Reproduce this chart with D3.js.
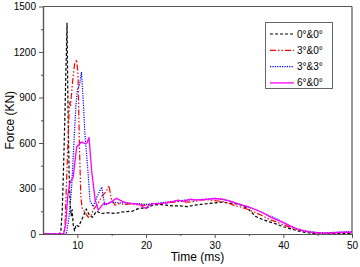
<!DOCTYPE html>
<html><head><meta charset="utf-8">
<script src="https://cdn.jsdelivr.net/npm/d3@7/dist/d3.min.js"></script>
<style>body{margin:0;background:#fff}svg{display:block;font-family:"Liberation Sans",Arial,sans-serif}</style>
</head><body>
<svg id="c" width="360" height="267"></svg>
<script>
// ---- data (time ms, force KN) ----
const seriesNames = ["0°&0°", "3°&0°", "3°&3°", "6°&0°"];
const xTicks = [10, 20, 30, 40, 50];
const yTicks = [0, 300, 600, 900, 1200, 1500];

const s00 = [[5,0],[7.4,0],[7.6,20],[7.8,150],[8.0,450],[8.2,800],[8.35,1100],[8.5,1390],[8.65,800],[8.8,400],[8.95,200],[9.1,120],[9.25,160],[9.4,60],[9.6,20],[9.8,60],[10.2,50],[10.8,110],[11.3,165],[11.8,120],[12.2,110],[12.8,150],[13.5,135],[14.5,140],[15.5,135],[16.5,145],[18,150],[19,170],[20,170],[21,190],[22,195],[23,190],[24,185],[25,185],[26,180],[27,190],[28,195],[29,200],[30,205],[31,210],[32,205],[33,200],[34,190],[35,160],[36,115],[37,95],[38,80],[39,65],[40,48],[41,35],[42,22],[43,12],[44,5],[45,0],[46,0],[47,2],[48,3],[50,5]];
const s30 = [[5,0],[8.0,0],[8.2,50],[8.5,440],[8.8,800],[8.9,870],[9.0,840],[9.3,1000],[9.6,1120],[9.9,1150],[10.1,1050],[10.3,600],[10.5,250],[10.7,170],[11.0,150],[11.6,110],[12.0,120],[12.3,160],[13,200],[13.6,250],[14.2,280],[14.6,320],[15.0,220],[15.5,190],[16,200],[17,195],[18,200],[19,190],[20,190],[21,200],[22,200],[23,205],[24,210],[25,215],[26,210],[27,215],[28,225],[29,225],[30,220],[31,215],[32,205],[33,185],[34,175],[35,160],[36,140],[37,120],[38,95],[39,80],[40,60],[41,45],[42,30],[43,20],[44,12],[45,8],[46,5],[47,8],[48,10],[50,12]];
const s33 = [[5,0],[8.4,0],[8.7,80],[8.9,160],[9.2,330],[9.5,600],[9.8,850],[10.0,950],[10.3,980],[10.6,1065],[10.9,850],[11.1,660],[11.5,440],[11.85,220],[12.3,180],[12.9,250],[13.55,310],[14.0,190],[14.5,200],[15,210],[16,205],[17,205],[18,200],[19,200],[20,195],[21,200],[22,205],[23,210],[24,215],[25,220],[26,225],[27,225],[28,228],[29,230],[30,235],[31,230],[32,220],[33,205],[34,190],[35,175],[36,160],[37,140],[38,120],[39,100],[40,78],[41,55],[42,35],[43,22],[44,15],[45,10],[46,8],[47,10],[48,12],[50,15]];
const s60 = [[5,0],[8.0,0],[8.3,60],[8.6,250],[8.9,335],[9.4,377],[9.9,574],[10.6,607],[11.1,596],[11.4,600],[11.7,636],[12.1,410],[12.6,224],[13.05,158],[13.8,200],[14.5,200],[15.2,220],[15.7,235],[16.7,212],[17.3,205],[18,200],[19,195],[19.9,170],[20.5,190],[21,200],[22,200],[23,205],[24,215],[24.7,224],[25.5,215],[26.5,230],[27,225],[28,225],[29,230],[30,234],[31,230],[32,220],[33,205],[34,190],[35,178],[36,160],[37,140],[38,115],[39,95],[40,75],[41,52],[42,32],[43,20],[44,12],[45,8],[46,6],[47,8],[48,10],[50,12]];

const allSeries = [s00, s30, s33, s60];
const colors = ["#000000", "#ff0000", "#0000ff", "#ff00ff"];
const dashes = ["3,2", "6,2,1.5,2,1.5,2", "1.2,1.2", null];
const widths = [1.2, 1.2, 1.2, 1.3];

// ---- layout ----
const svg = d3.select("#c");
const L = 43, R = 352, T = 6.5, B = 234;
const x = d3.scaleLinear().domain([5, 50]).range([L, R]);
const y = d3.scaleLinear().domain([0, 1500]).range([B, T]);
const axisColor = "#555";

// frame top/right
svg.append("line").attr("x1", L).attr("x2", R).attr("y1", T).attr("y2", T).attr("stroke", axisColor).attr("stroke-width", 1.2);
svg.append("line").attr("x1", R).attr("x2", R).attr("y1", T).attr("y2", B).attr("stroke", axisColor).attr("stroke-width", 1.2);

// lines
const line = d3.line().x(d => x(d[0])).y(d => y(d[1]));
const g = svg.append("g");
[0,1,2,3].forEach(i => {
  g.append("path").datum(allSeries[i]).attr("d", line).attr("fill", "none")
   .attr("stroke", colors[i]).attr("stroke-width", widths[i])
   .attr("stroke-dasharray", dashes[i]).attr("stroke-linejoin", "round");
});

// axes
const fmt = d3.format("d");
svg.append("g").attr("transform", `translate(0,${B})`)
  .call(d3.axisBottom(x).tickValues(xTicks).tickSize(4).tickSizeOuter(0).tickPadding(4).tickFormat(fmt));
svg.append("g").attr("transform", `translate(0,${B})`)
  .call(d3.axisBottom(x).tickValues([15,25,35,45]).tickSize(2).tickSizeOuter(0).tickFormat(""));
svg.append("g").attr("transform", `translate(${L},0)`)
  .call(d3.axisLeft(y).tickValues(yTicks).tickSize(4).tickSizeOuter(0).tickPadding(3).tickFormat(fmt));
svg.append("g").attr("transform", `translate(${L},0)`)
  .call(d3.axisLeft(y).tickValues([150,450,750,1050,1350]).tickSize(2).tickSizeOuter(0).tickFormat(""));
svg.selectAll(".domain").attr("stroke", axisColor).attr("stroke-width", 1.2);
svg.selectAll(".tick line").attr("stroke", axisColor);
svg.selectAll(".tick text").attr("font-size", 10).attr("fill", "#000").attr("font-family", "Liberation Sans, Arial, sans-serif");

// axis titles
svg.append("text").attr("x", (L + R) / 2).attr("y", 261).attr("text-anchor", "middle")
  .attr("font-size", 12).text("Time (ms)");
svg.append("text").attr("transform", `translate(14,${(T + B) / 2}) rotate(-90)`).attr("text-anchor", "middle")
  .attr("font-size", 12).text("Force (KN)");

// legend
const lg = svg.append("g");
lg.append("rect").attr("x", 265.5).attr("y", 22.5).attr("width", 67).attr("height", 66)
  .attr("fill", "#fff").attr("stroke", "#666").attr("stroke-width", 1);
seriesNames.forEach((n, i) => {
  const yy = 34 + i * 16.3;
  lg.append("line").attr("x1", 270).attr("x2", 294).attr("y1", yy).attr("y2", yy)
    .attr("stroke", colors[i]).attr("stroke-width", widths[i]).attr("stroke-dasharray", dashes[i]);
  lg.append("text").attr("x", 297).attr("y", yy + 3.5).attr("font-size", 10).text(n);
});
</script>
</body></html>
